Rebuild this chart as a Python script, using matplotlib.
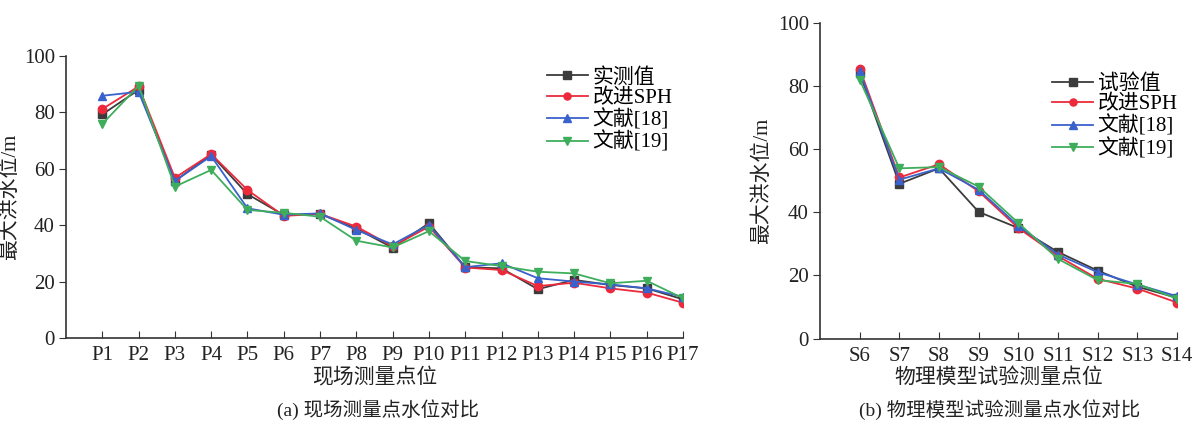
import matplotlib.pyplot as plt

# (a) field measurement points
p_labels = [f"P{i}" for i in range(1, 18)]
p_measured = [79.3, 88.0, 55.7, 65.0, 51.0, 43.6, 44.0, 38.8, 32.0, 40.7, 25.1, 24.7, 17.3, 20.6, 18.8, 17.6, 13.7]
p_sph = [81.2, 89.2, 56.8, 65.2, 52.5, 43.3, 44.0, 39.5, 32.5, 39.5, 25.0, 24.1, 18.4, 19.6, 17.6, 16.1, 12.5]
p_ref18 = [85.9, 87.3, 55.7, 64.5, 46.0, 43.7, 44.2, 38.3, 33.2, 40.1, 25.1, 26.5, 21.2, 20.0, 19.0, 17.6, 14.6]
p_ref19 = [75.9, 89.4, 53.7, 59.6, 45.4, 44.4, 43.0, 34.5, 32.1, 37.9, 27.3, 25.5, 23.5, 22.9, 19.4, 20.3, 14.1]

# (b) physical model test points
s_labels = [f"S{i}" for i in range(6, 15)]
s_measured = [84.1, 49.0, 53.9, 40.1, 35.0, 27.4, 21.5, 16.4, 12.9]
s_sph = [85.5, 51.0, 55.2, 46.6, 35.0, 26.1, 18.9, 15.8, 11.4]
s_ref18 = [84.7, 50.3, 53.9, 47.1, 35.7, 26.6, 21.0, 17.1, 13.4]
s_ref19 = [82.0, 53.9, 54.3, 48.1, 36.6, 25.2, 18.5, 17.3, 12.6]

COLORS = ["#3c3c3c", "#ec2a3c", "#3a62cc", "#3fae5c"]
MARKERS = ["s", "o", "^", "v"]
FONT = ["Liberation Serif", "Noto Sans CJK SC"]

plt.rcParams["font.family"] = FONT
plt.rcParams["axes.unicode_minus"] = False

W, H = 1194, 425


def draw_panel(ax, labels, series, names, xlabel, caption, legend_anchor, ylabel_x, cap_x):
    x = list(range(1, len(labels) + 1))
    for vals, name, c, m in zip(series, names, COLORS, MARKERS):
        ax.plot(x, vals, color=c, marker=m, markersize=6, linewidth=1.3, label=name)
    ax.set_xlim(0, len(labels))
    ax.set_ylim(0, 100)
    ax.set_xticks(x)
    ax.set_xticklabels(labels)
    ax.set_yticks(range(0, 101, 20))
    ax.tick_params(axis="x", direction="in", length=5, labelsize=15, pad=6, colors="#333333",
                   labelcolor="#222222")
    ax.tick_params(axis="y", direction="out", length=5, labelsize=15, pad=3, colors="#333333",
                   labelcolor="#222222")
    for s in ("top", "right"):
        ax.spines[s].set_visible(False)
    for s in ("left", "bottom"):
        ax.spines[s].set_color("#333333")
        ax.spines[s].set_linewidth(1.2)
    ax.set_xlabel(xlabel, fontsize=15, labelpad=2, color="#222222")
    ax.set_ylabel("最大洪水位/m", fontsize=15, color="#222222")
    ax.yaxis.set_label_coords(ylabel_x, 0.5)
    fig.text(cap_x / W, 1 - 410 / H, caption, ha="center", va="center",
             fontsize=14, color="#222222")
    ax.legend(loc="upper left", bbox_to_anchor=legend_anchor, frameon=False, fontsize=15,
              handlelength=2.0, handletextpad=0.2, labelspacing=0.05, borderpad=0,
              markerscale=0.85)


fig = plt.figure(figsize=(W / 100, H / 100), dpi=100)
ax1 = fig.add_axes([66 / W, 1 - 338 / H, 617 / W, 282 / H])
ax2 = fig.add_axes([820 / W, 1 - 338.5 / H, 357 / W, 315.7 / H])

draw_panel(ax1, p_labels, [p_measured, p_sph, p_ref18, p_ref19],
           ["实测值", "改进SPH", "文献[18]", "文献[19]"],
           "现场测量点位", "(a) 现场测量点水位对比", (0.762, 0.995), -0.075, 378)
draw_panel(ax2, s_labels, [s_measured, s_sph, s_ref18, s_ref19],
           ["试验值", "改进SPH", "文献[18]", "文献[19]"],
           "物理模型试验测量点位", "(b) 物理模型试验测量点水位对比", (0.62, 0.87), -0.135, 1000)

fig.savefig("out.png", dpi=100)
